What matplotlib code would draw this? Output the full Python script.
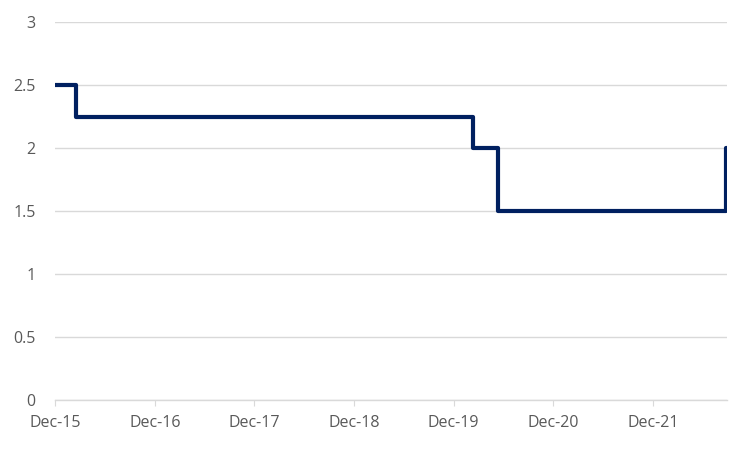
import pandas as pd
import matplotlib.pyplot as plt
import matplotlib.dates as mdates

# Dates where the rate changes, and the rate from that date on
change_dates = [ "2015-12-01", "2016-02-17", "2020-02-11", "2020-05-12", "2022-08-26", "2022-08-29" ]
rates = [ 2.5, 2.25, 2.0, 1.5, 2.0, 2.0 ]

tick_dates = [ "2015-12-01", "2016-12-01", "2017-12-01", "2018-12-01", "2019-12-01", "2020-12-01", "2021-12-01" ]
y_ticks = [ 0, 0.5, 1, 1.5, 2, 2.5, 3 ]
y_labels = [ "0", "0.5", "1", "1.5", "2", "2.5", "3" ]

df = pd.DataFrame ( { "date" : pd.to_datetime ( change_dates ), "rate" : rates } )

plt.rcParams["font.family"] = [ "Open Sans", "DejaVu Sans" ]

fig = plt.figure ( figsize = ( 7.5, 4.5 ), dpi = 100 )
ax = fig.add_axes ( [ 0.0733, 0.111, 0.896, 0.840 ] )

ax.step ( df["date"], df["rate"], where = "post", color = "#002060", linewidth = 3.0 )

ax.set_xlim ( df["date"].iloc[0], df["date"].iloc[-1] )
ax.set_ylim ( 0, 3 )

ax.set_yticks ( y_ticks )
ax.set_yticklabels ( y_labels )
ax.set_xticks ( pd.to_datetime ( tick_dates ) )
ax.xaxis.set_major_formatter ( mdates.DateFormatter ( "%b-%y" ) )

ax.grid ( axis = "y", color = "#d9d9d9", linewidth = 1.0 )
ax.set_axisbelow ( True )
for side in [ "top", "right", "left" ] :
    ax.spines[side].set_visible ( False )
ax.spines["bottom"].set_color ( "#d9d9d9" )
ax.spines["bottom"].set_linewidth ( 1.0 )

ax.tick_params ( axis = "y", length = 0, pad = 14, labelsize = 11.5, labelcolor = "#595959" )
ax.tick_params ( axis = "x", length = 4, color = "#d9d9d9", pad = 7, labelsize = 11.5, labelcolor = "#595959" )

fig.savefig ( "out.png" )
